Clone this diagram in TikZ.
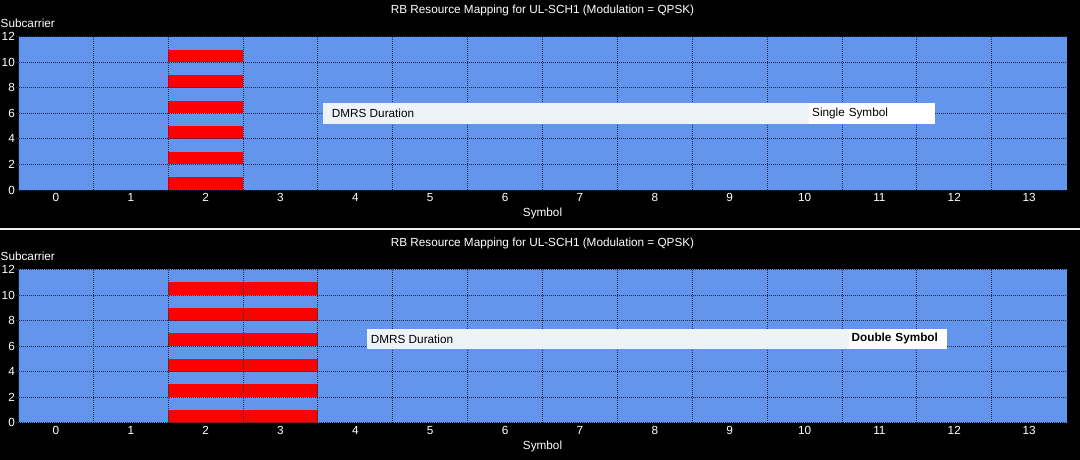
\documentclass[tikz,border=0pt]{standalone}
\usepackage{fontspec}
\setmainfont{Liberation Sans}
\usetikzlibrary{positioning}
\definecolor{plotblue}{HTML}{6495ED}
\definecolor{gridblue}{HTML}{1C2C50}
\definecolor{tipback}{HTML}{EEF3FA}
\tikzset{panel/.style={fill=plotblue,draw=none}}
\tikzset{dmrs/.style={fill=red,draw=none}}
\tikzset{gridline/.style={draw=gridblue,dash pattern=on 1pt off 1pt,line width=0.9pt}}
\tikzset{axislabel/.style={text=white,inner sep=0pt,font=\fontsize{11.75}{14}\selectfont}}
\tikzset{tipbox/.style={fill=tipback,minimum height=20.5pt,inner sep=0pt}}
\tikzset{tipvalue/.style={fill=white,minimum height=20.5pt,inner ysep=0pt,align=left,text=black,font=\fontsize{11.75}{14}\selectfont}}
\tikzset{tipkey/.style={inner sep=0pt,text=black,font=\fontsize{11.75}{14}\selectfont}}

\begin{document}
\begin{tikzpicture}[x=1pt,y=1pt]
  \useasboundingbox (0,0) rectangle (1080,460);
  \fill[black] (0,0) rectangle (1080,460);
  % the two mapping panels
  \foreach \p/\yo/\last in {1/270/2, 2/37.3/3} {
    \begin{scope}[shift={(55.93pt,\yo pt)},x=74.86pt,y=12.77pt]
      \fill[panel] (-0.5,0) rectangle (13.5,12);
      \foreach \c in {2,...,\last}
        \foreach \s in {0,2,...,10}
          \fill[dmrs] (\c-0.5,\s) rectangle (\c+0.5,\s+1);
      \foreach \c in {-0.5,0.5,...,12.5}
        \draw[gridline] (\c,0) -- (\c,12);
      \foreach \s in {0,2,...,12} {
        \draw[gridline] (-0.5,\s) -- (13.5,\s);
        \draw[gridline] (-0.5,\s) -- ++(-3pt,0);
        \node[axislabel,anchor=east] (ytick\p-\s) at ([xshift=-3.5pt]-0.5,\s) {\s};
      }
      \foreach \c in {0,...,13}
        \node[axislabel,anchor=north] (xtick\p-\c) at ([yshift=-3.5pt]\c,0) {\c};
      \node[axislabel,anchor=north] (xname\p) at ([yshift=-17.8pt]6.5,0) {Symbol};
      \node[axislabel,anchor=west] (yname\p) at ([xshift=-18pt,yshift=13.5pt]-0.5,12) {Subcarrier};
      \node[axislabel,anchor=base] (title\p) at ([yshift=23pt]6.5,12)
        {RB Resource Mapping for UL-SCH1 (Modulation = QPSK)};
    \end{scope}
  }
  % separator between the panels
  \draw[white!85!gray,line width=2pt] (0,230.5) -- (1080,230.5);
  % data tips
  \node[tipbox,minimum width=612.3pt,anchor=south west] (tip1) at (322.7,335.8) {};
  \node[tipvalue,text width=120pt,inner xsep=3pt,anchor=east] (val1) at (tip1.east) {Single Symbol};
  \node[tipkey,anchor=west,right=9pt of tip1.west] (key1) {DMRS Duration};
  \node[tipbox,minimum width=580pt,anchor=south west] (tip2) at (366.7,110.7) {};
  \node[tipvalue,text width=92pt,inner xsep=3.2pt,anchor=east] (val2) at (tip2.east) {\bfseries Double Symbol};
  \node[tipkey,anchor=west,right=4pt of tip2.west] (key2) {DMRS Duration};
\end{tikzpicture}
\end{document}
